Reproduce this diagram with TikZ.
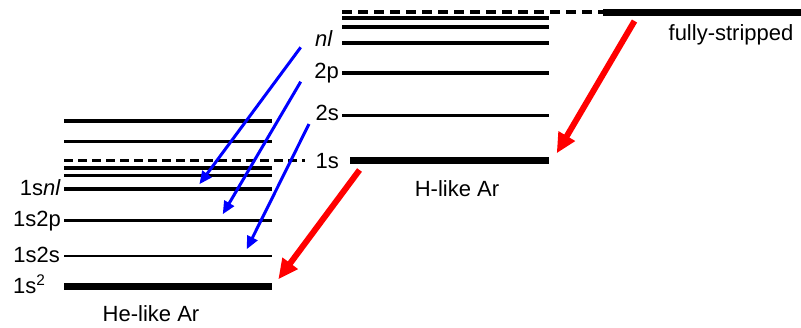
\documentclass[tikz,border=0pt]{standalone}
\usepackage{fontspec}
\setmainfont{Liberation Sans}
\usepackage{tikz}
\usetikzlibrary{arrows.meta,positioning,calc}

\begin{document}
\begin{tikzpicture}[
    x=1pt, y=-1pt,
    level/.style={line width=3.6pt},
    thinlevel/.style={line width=2.9pt},
    ground/.style={line width=7pt},
    limit/.style={line width=3.2pt, dash pattern=on 8.5pt off 5.5pt},
    lbl/.style={font=\fontsize{22}{26}\selectfont, anchor=base east, inner sep=0pt},
    title/.style={font=\fontsize{22}{26}\selectfont, anchor=base, inner sep=0pt},
    cascade/.style={-{Triangle[length=13pt, width=11pt]}, line width=3pt, draw=blue},
    capture/.style={-{Triangle[length=20pt, width=18pt]}, line width=6pt, draw=red}
]
    \useasboundingbox (0,0) rectangle (801,327);

    % He-like Ar levels
    \foreach \y in {121,141.3,168,175.3}
        \draw [level] (64,\y) -- (272,\y);
    \draw [limit] (64,160.7) -- (305,160.7);
    \draw [level, line width=4.4pt] (64,189) -- (272,189);
    \draw [thinlevel] (64,220.7) -- (272,220.7);
    \draw [thinlevel] (64,256) -- (272,256);
    \draw [ground] (64,286.7) -- (272,286.7);

    \node [lbl] (he1snl) at (61,195) {1s\textit{nl}};
    \node [lbl] (he1s2p) at (61,226.5) {1s2p};
    \node [lbl] (he1s2s) at (60,262) {1s2s};
    \node [lbl, anchor=base west] (he1s2) at (13,293.5) {1s\textsuperscript{2}};
    \node [title] (helike) at (151,321.7) {He-like Ar};

    % H-like Ar levels
    \draw [limit, line width=4pt, dash pattern=on 10pt off 6pt] (342,12) -- (605,12);
    \foreach \y in {18,26.7}
        \draw [level, line width=4pt] (342,\y) -- (549,\y);
    \foreach \y in {42.7,72.7,115.3}
        \draw [level] (342,\y) -- (549,\y);
    \draw [ground] (350,160.7) -- (549,160.7);

    \node [lbl] (hnl) at (333,46) {\textit{nl}};
    \node [lbl] (h2p) at (339,78.3) {2p};
    \node [lbl] (h2s) at (339,120.7) {2s};
    \node [lbl] (h1s) at (339,168.3) {1s};
    \node [title] (hlike) at (457,196) {H-like Ar};

    % fully stripped
    \draw [ground] (603,12) -- (801,12);
    \node [title] (bare) at (731,40.7) {fully-stripped};

    % transitions
    \coordinate (bnlA) at (300.7,47.3);
    \coordinate (bnlB) at (199.3,184.3);
    \coordinate (b2pA) at (300.7,81.7);
    \coordinate (b2pB) at (222.7,214.3);
    \coordinate (b2sA) at (309,124);
    \coordinate (b2sB) at (246.7,249.3);
    \coordinate (rfsA) at (634.5,21);
    \coordinate (rfsB) at (556.7,153.3);
    \coordinate (rhA) at (359.5,170);
    \coordinate (rhB) at (278.3,279.3);

    \draw [cascade] (bnlA) -- (bnlB);
    \draw [cascade] (b2pA) -- (b2pB);
    \draw [cascade] (b2sA) -- (b2sB);
    \draw [capture] (rfsA) -- (rfsB);
    \draw [capture] (rhA) -- (rhB);
\end{tikzpicture}
\end{document}
